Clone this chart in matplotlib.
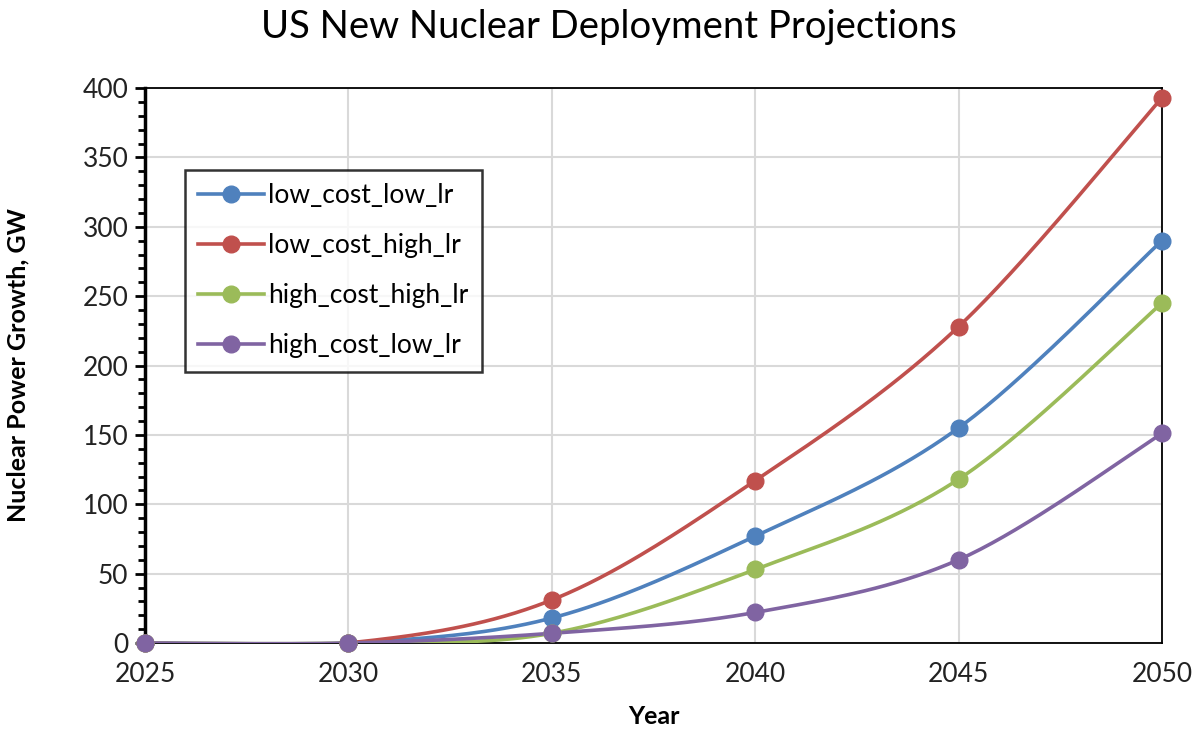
import numpy as np
import matplotlib.pyplot as plt
from matplotlib.ticker import MultipleLocator

plt.rcParams['font.family'] = ['Lato', 'DejaVu Sans']

years = [2025, 2030, 2035, 2040, 2045, 2050]
low_cost_low_lr = [0, 0, 18, 77, 155, 290]
low_cost_high_lr = [0, 0, 31, 117, 228, 393]
high_cost_high_lr = [0, 0, 7, 53, 118, 245]
high_cost_low_lr = [0, 0, 7, 22, 60, 151]

series = [
    ('low_cost_low_lr', low_cost_low_lr, '#4f81bd'),
    ('low_cost_high_lr', low_cost_high_lr, '#c0504d'),
    ('high_cost_high_lr', high_cost_high_lr, '#9bbb59'),
    ('high_cost_low_lr', high_cost_low_lr, '#8064a2'),
]


def smooth(x, y, n=40):
    # Bezier curve through the points, spreadsheet-style smoothing
    x = np.asarray(x, float)
    y = np.asarray(y, float)
    px = np.concatenate([[x[0]], x, [x[-1]]])
    py = np.concatenate([[y[0]], y, [y[-1]]])
    xs, ys = [], []
    t = np.linspace(0, 1, n)
    for i in range(len(x) - 1):
        p0 = np.array([px[i + 1], py[i + 1]])
        p3 = np.array([px[i + 2], py[i + 2]])
        c1 = p0 + (np.array([px[i + 2], py[i + 2]]) - np.array([px[i], py[i]])) / 6
        c2 = p3 - (np.array([px[i + 3], py[i + 3]]) - np.array([px[i + 1], py[i + 1]])) / 6
        b = ((1 - t) ** 3)[:, None] * p0 + (3 * (1 - t) ** 2 * t)[:, None] * c1 \
            + (3 * (1 - t) * t ** 2)[:, None] * c2 + (t ** 3)[:, None] * p3
        xs.append(b[:, 0])
        ys.append(b[:, 1])
    return np.concatenate(xs), np.concatenate(ys)


fig = plt.figure(figsize=(11.93, 7.33), dpi=100)
ax = fig.add_axes([145 / 1193, 1 - 643 / 733, (1162 - 145) / 1193, (643 - 88) / 733])

for name, vals, color in series:
    sx, sy = smooth(years, vals)
    ax.plot(sx, sy, color=color, lw=2.6, solid_capstyle='round', zorder=3)
    ax.plot(years, vals, 'o', color=color, ms=12, zorder=4, clip_on=False)
    ax.plot([], [], '-o', color=color, lw=2.6, ms=12, label=name)

ax.set_xlim(2025, 2050)
ax.set_ylim(0, 400)
ax.xaxis.set_major_locator(MultipleLocator(5))
ax.yaxis.set_major_locator(MultipleLocator(50))
ax.yaxis.set_minor_locator(MultipleLocator(10))
ax.grid(True, which='major', color='#d9d9d9', lw=1.5, zorder=0)
ax.set_axisbelow(True)

for s in ax.spines.values():
    s.set_color('black')
    s.set_linewidth(1.3)
ax.spines['left'].set_linewidth(2.5)

ax.tick_params(axis='x', length=0, pad=14, labelsize=19, colors='#222222')
ax.tick_params(axis='y', which='major', length=7, width=2, direction='out', labelsize=19,
               colors='black', labelcolor='#222222', pad=5)
ax.tick_params(axis='y', which='minor', length=5, width=2, direction='out', colors='black')

fig.text(609 / 1193, 1 - 27 / 733, 'US New Nuclear Deployment Projections',
         fontsize=27.5, ha='center', va='center')
ax.set_xlabel('Year', fontsize=18, fontweight='bold', labelpad=13)
ax.set_ylabel('Nuclear Power Growth, GW', fontsize=18, fontweight='bold', labelpad=38)

leg = ax.legend(loc='upper left', bbox_to_anchor=(185 / 1193, 1 - 170 / 733),
                bbox_transform=fig.transFigure, fontsize=19, frameon=True,
                fancybox=False, edgecolor='black', handlelength=2.5, labelspacing=0.95,
                borderpad=0.5, handletextpad=0.15, borderaxespad=0)
leg.get_frame().set_linewidth(1.8)

fig.savefig('out.png', dpi=100)
